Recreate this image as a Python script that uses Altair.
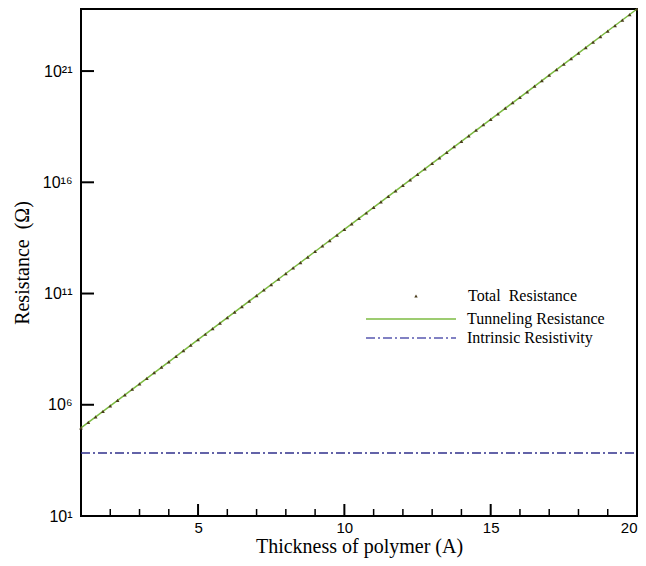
import altair as alt
import pandas as pd

# ---- data ----
thickness_total = [1.0 + 0.25 * i for i in range(77)]
total_log10 = [4.96, 5.21, 5.46, 5.70, 5.95, 6.20, 6.45, 6.70, 6.94, 7.19, 7.44, 7.69,
               7.93, 8.18, 8.43, 8.68, 8.93, 9.17, 9.42, 9.67, 9.92, 10.16, 10.41, 10.66,
               10.91, 11.16, 11.40, 11.65, 11.90, 12.15, 12.39, 12.64, 12.89, 13.14, 13.38,
               13.63, 13.88, 14.13, 14.38, 14.62, 14.87, 15.12, 15.37, 15.61, 15.86, 16.11,
               16.36, 16.60, 16.85, 17.10, 17.35, 17.60, 17.84, 18.09, 18.34, 18.59, 18.83,
               19.08, 19.33, 19.58, 19.82, 20.07, 20.32, 20.57, 20.82, 21.06, 21.31, 21.56,
               21.81, 22.05, 22.30, 22.55, 22.80, 23.04, 23.29, 23.54, 23.79]

thickness_tunnel = list(range(1, 21))
tunnel_log10 = [4.96, 5.95, 6.94, 7.93, 8.93, 9.92, 10.91, 11.90, 12.89, 13.88,
                14.87, 15.86, 16.85, 17.84, 18.83, 19.82, 20.82, 21.81, 22.80, 23.79]

thickness_intrinsic = [1, 20]
intrinsic_R = [6.8e3, 6.8e3]

series_names = ["Total\u00a0 Resistance", "Tunneling Resistance", "Intrinsic Resistivity"]

x_major_ticks = [5, 10, 15, 20]
x_minor_ticks = [2, 3, 4, 6, 7, 8, 9, 11, 12, 13, 14, 16, 17, 18, 19]
y_tick_values = [1e1, 1e6, 1e11, 1e16, 1e21]
y_tick_exps = [1, 6, 11, 16, 21]
y_tick_labels = ["10\u00b9", "10\u2076", "10\u00b9\u00b9", "10\u00b9\u2076", "10\u00b2\u00b9"]

y_domain = [1e1, 10 ** 23.79]
x_domain = [1, 20]

W, H = 556, 507

# ---- frames ----
df_total = pd.DataFrame({"thickness": thickness_total,
                         "R": [10 ** v for v in total_log10],
                         "series": series_names[0]})
df_tunnel = pd.DataFrame({"thickness": thickness_tunnel,
                          "R": [10 ** v for v in tunnel_log10],
                          "series": series_names[1]})
df_intr = pd.DataFrame({"thickness": thickness_intrinsic, "R": intrinsic_R,
                        "series": series_names[2]})
df_xmaj = pd.DataFrame({"thickness": x_major_ticks})
df_xmin = pd.DataFrame({"thickness": x_minor_ticks})
df_ymaj = pd.DataFrame({"R": y_tick_values[1:]})

label_expr = ""
for e, lab in zip(y_tick_exps, y_tick_labels):
    label_expr += f"round(log(datum.value)/LN10) == {e} ? '{lab}' : "
label_expr += "''"

xscale = alt.Scale(domain=x_domain, nice=False, zero=False)
yscale = alt.Scale(type="log", domain=y_domain, nice=False)

x_enc = alt.X("thickness:Q", scale=xscale,
              axis=alt.Axis(title="Thickness of polymer (A)", values=x_major_ticks,
                            format="d"))
y_enc = alt.Y("R:Q", scale=yscale,
              axis=alt.Axis(title="Resistance\u00a0 (\u03a9)", values=y_tick_values,
                            labelExpr=label_expr))

serif = "Liberation Serif, Times New Roman, serif"
sans = "Liberation Sans, DejaVu Sans, Arial, sans-serif"

tunnel = alt.Chart(df_tunnel).mark_line(strokeWidth=1.5).encode(
    x=x_enc, y=y_enc,
    color=alt.Color("series:N",
                    scale=alt.Scale(domain=[series_names[1]], range=["#7dbb42"]),
                    legend=alt.Legend(title=None, orient="none", legendX=284, legendY=264,
                                      symbolType="stroke", symbolSize=8100,
                                      symbolStrokeWidth=1.5, labelOffset=10,
                                      labelFont=serif, labelFontSize=16,
                                      labelColor="black", padding=0)),
)

total = alt.Chart(df_total).mark_point(shape="triangle-up", filled=True, size=14,
                                       color="#4a3c1c", opacity=1).encode(
    x=x_enc, y=y_enc,
    shape=alt.Shape("series:N",
                    scale=alt.Scale(domain=[series_names[0]], range=["triangle-up"]),
                    legend=alt.Legend(title=None, orient="none", legendX=327, legendY=279,
                                      symbolSize=12, symbolFillColor="#4a3c1c",
                                      symbolStrokeWidth=0, labelOffset=44,
                                      labelFont=serif, labelFontSize=16,
                                      labelColor="black", padding=0)),
)

intrinsic = alt.Chart(df_intr).mark_line(strokeWidth=1.5, color="#30308c").encode(
    x=x_enc, y=y_enc,
    strokeDash=alt.StrokeDash("series:N",
                              scale=alt.Scale(domain=[series_names[2]], range=[[9, 3, 2, 3]]),
                              legend=alt.Legend(title=None, orient="none", legendX=284,
                                                legendY=283, symbolType="stroke",
                                                symbolSize=8100, symbolStrokeWidth=1.3,
                                                symbolStrokeColor="#5858b0",
                                                labelOffset=10, labelFont=serif,
                                                labelFontSize=16, labelColor="black",
                                                padding=0)),
)

xmaj = alt.Chart(df_xmaj).mark_rule(color="black", strokeWidth=2).encode(
    x=x_enc, y=alt.value(H), y2=alt.value(H - 12))
xmin = alt.Chart(df_xmin).mark_rule(color="black", strokeWidth=1.5).encode(
    x=x_enc, y=alt.value(H), y2=alt.value(H - 7))
ymaj = alt.Chart(df_ymaj).mark_rule(color="black", strokeWidth=2).encode(
    y=y_enc, x=alt.value(0), x2=alt.value(13))

chart = alt.layer(tunnel, total, intrinsic, xmaj, xmin, ymaj).resolve_legend(
    color="independent", shape="independent", strokeDash="independent"
).properties(
    width=W, height=H,
    autosize=alt.AutoSizeParams(type="none"),
    padding={"left": 73, "top": 1, "right": 1, "bottom": 42},
    background="white",
).configure_view(
    stroke="black", strokeWidth=2
).configure_axis(
    grid=False, domain=False, ticks=False,
    labelFont=sans, labelFontSize=16, labelColor="black",
    titleFont=serif, titleFontSize=20, titleFontWeight="normal", titleColor="black",
).configure_axisX(
    labelFontSize=15, labelPadding=4, titlePadding=1,
).configure_axisY(
    labelPadding=9, titlePadding=10,
)

chart.save("out.html", embed_options={"renderer": "svg", "actions": False})
